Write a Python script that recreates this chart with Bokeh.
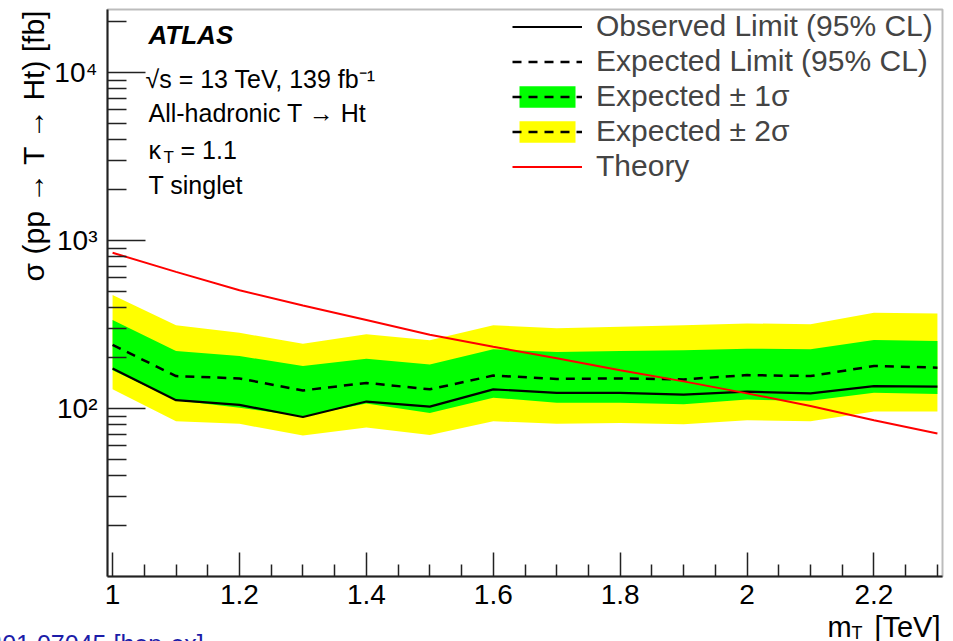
import math
from bokeh.plotting import figure
from bokeh.models import Range1d, FixedTicker, Label, Legend, LegendItem, BoxAnnotation
from bokeh.embed import file_html
from bokeh.resources import INLINE

# ---- data ----
mass = [1.0, 1.1, 1.2, 1.3, 1.4, 1.5, 1.6, 1.7, 1.8, 1.9, 2.0, 2.1, 2.2, 2.3]
observed = [173, 112, 105, 89, 110, 102.5, 130, 124, 124, 121, 126, 123, 136, 135]
expected = [239, 156, 151, 128, 142, 130, 157, 150, 151, 149, 158, 156, 179, 175]
exp_plus1 = [336, 220, 205, 179, 198, 183, 225, 217, 220, 222, 227, 225, 256, 252]
exp_minus1 = [169, 112, 101, 90, 107, 94, 116, 108, 108, 106, 113, 111, 124, 122]
exp_plus2 = [474, 313, 282, 243, 277, 255, 313, 300, 307, 313, 321, 317, 372, 367]
exp_minus2 = [130, 84, 81, 69, 77, 69.5, 84, 81, 82, 80.5, 85, 84, 96, 96]
theory = [845, 650, 506, 410, 336, 275, 233, 199, 169, 145, 123, 103.5, 85, 71]

x_major_ticks = [1.0, 1.2, 1.4, 1.6, 1.8, 2.0, 2.2]
x_tick_labels = ["1", "1.2", "1.4", "1.6", "1.8", "2", "2.2"]
x_minor_ticks = [1.05, 1.1, 1.15, 1.25, 1.3, 1.35, 1.45, 1.5, 1.55, 1.65, 1.7, 1.75,
                 1.85, 1.9, 1.95, 2.05, 2.1, 2.15, 2.25, 2.3]
y_major_ticks = [100, 1000, 10000]
y_tick_labels = ["10\u00b2", "10\u00b3", "10\u2074"]
y_minor_ticks = [20, 30, 40, 50, 60, 70, 80, 90,
                 200, 300, 400, 500, 600, 700, 800, 900,
                 2000, 3000, 4000, 5000, 6000, 7000, 8000, 9000, 20000]

legend_labels = ["Observed Limit (95% CL)", "Expected Limit (95% CL)",
                 "Expected \u00b1 1\u03c3", "Expected \u00b1 2\u03c3", "Theory"]

# axis limits of the drawn box
X_MIN, X_MAX = 0.992, 2.308
Y_MIN, Y_MAX = 10.0, 23700.0

# ---- layout: the Bokeh frame is the whole canvas; the plot box sits inside it ----
W, H = 953, 641
BOX_L, BOX_R, BOX_T, BOX_B = 107, 942, 9, 576   # canvas px of the plot box
px_per_x = (BOX_R - BOX_L) / (X_MAX - X_MIN)
px_per_dec = (BOX_B - BOX_T) / (math.log10(Y_MAX) - math.log10(Y_MIN))
x_start = X_MIN - BOX_L / px_per_x
x_end = X_MAX + (W - BOX_R) / px_per_x
y_start = 10 ** (math.log10(Y_MIN) - (H - BOX_B) / px_per_dec)
y_end = 10 ** (math.log10(Y_MAX) + BOX_T / px_per_dec)

FONT = "Liberation Sans"

p = figure(width=W, height=H, output_backend="svg", toolbar_location=None,
           x_range=Range1d(x_start, x_end), y_range=Range1d(y_start, y_end),
           y_axis_type="log", min_border=0)
p.xgrid.visible = False
p.ygrid.visible = False
p.outline_line_color = None
p.background_fill_color = "white"
p.border_fill_color = "white"

# bands and lines
r_yellow = p.varea(x=mass, y1=exp_minus2, y2=exp_plus2, fill_color="#ffff00")
r_green = p.varea(x=mass, y1=exp_minus1, y2=exp_plus1, fill_color="#00ff00")
r_exp = p.line(mass, expected, line_color="black", line_width=2.5, line_dash="9 7")
r_obs = p.line(mass, observed, line_color="black", line_width=2.2)
r_th = p.line(mass, theory, line_color="#ff0000", line_width=2)

# plot box outline
p.add_layout(BoxAnnotation(left=X_MIN, right=X_MAX, bottom=Y_MIN, top=Y_MAX,
                           fill_alpha=0, line_color="#222222", line_width=2,
                           level="overlay"))

# axes drawn at the box edges
xa = p.xaxis[0]
xa.fixed_location = Y_MIN
xa.bounds = (X_MIN, X_MAX)
xa.ticker = FixedTicker(ticks=x_major_ticks, minor_ticks=x_minor_ticks)
xa.major_label_overrides = {t: l for t, l in zip(x_major_ticks, x_tick_labels)}
xa.major_tick_in = 24
xa.major_tick_out = 0
xa.minor_tick_in = 12
xa.minor_tick_out = 0
xa.axis_line_width = 2
xa.axis_line_color = "#222222"
xa.major_tick_line_color = "#222222"
xa.minor_tick_line_color = "#222222"
xa.major_tick_line_width = 1.5
xa.minor_tick_line_width = 1.5
xa.major_label_text_font = FONT
xa.major_label_text_font_size = "28px"
xa.major_label_text_color = "black"
xa.major_label_standoff = 8

ya = p.yaxis[0]
ya.fixed_location = X_MIN
ya.bounds = (Y_MIN, Y_MAX)
ya.ticker = FixedTicker(ticks=y_major_ticks, minor_ticks=y_minor_ticks)
ya.major_label_overrides = {t: l for t, l in zip(y_major_ticks, y_tick_labels)}
ya.major_tick_in = 38
ya.major_tick_out = 0
ya.minor_tick_in = 19
ya.minor_tick_out = 0
ya.axis_line_width = 2
ya.axis_line_color = "#222222"
ya.major_tick_line_color = "#222222"
ya.minor_tick_line_color = "#222222"
ya.major_tick_line_width = 1.5
ya.minor_tick_line_width = 1.5
ya.major_label_text_font = FONT
ya.major_label_text_font_size = "28px"
ya.major_label_text_color = "black"
ya.major_label_standoff = 10

SHIFT = 9  # empirical baseline correction


def lab(text, cx, cy, size, style="normal", align="left", baseline="alphabetic",
        angle=0.0, color="black", shift=SHIFT):
    p.add_layout(Label(x=cx, y=H - (cy - shift), x_units="screen", y_units="screen",
                       text=text, text_font=FONT, text_font_size=size,
                       text_font_style=style, text_align=align,
                       text_baseline=baseline, angle=angle, text_color=color))


# axis titles
lab("\u03c3 (pp \u2192 T \u2192 Ht) [fb]", 33, 9, "30px", align="right",
    baseline="middle", angle=math.pi / 2, shift=0)
lab("m", 827, 635, "29px")
lab("T", 851, 641, "18px")
lab("[TeV]", 940, 635, "29px", align="right")

# annotations top-left
lab("ATLAS", 148, 43, "26px", style="bold italic")
lab("\u221as = 13 TeV, 139 fb\u207b\u00b9", 145, 87, "25px")
lab("All-hadronic T \u2192 Ht", 148, 121, "25px")
lab("\u03ba", 148, 158, "25px")
lab("T", 163, 166, "17px")
lab("= 1.1", 180, 158, "25px")
lab("T singlet", 148, 193, "25px")

# reference caption (cut by the page edge)
lab("arXiv:2201.07045 [hep-ex]", -90, 652, "25px", color="#1c1ca8")

legend = Legend(items=[
    LegendItem(label=legend_labels[0], renderers=[r_obs]),
    LegendItem(label=legend_labels[1], renderers=[r_exp]),
    LegendItem(label=legend_labels[2], renderers=[r_green, r_exp]),
    LegendItem(label=legend_labels[3], renderers=[r_yellow, r_exp]),
    LegendItem(label=legend_labels[4], renderers=[r_th]),
], location=(512, H - 183.5))
legend.glyph_width = 70
legend.glyph_height = 27
legend.label_height = 35
legend.spacing = 0
legend.padding = 0
legend.margin = 0
legend.label_standoff = 14
legend.label_text_font = FONT
legend.label_text_font_size = "30px"
legend.background_fill_alpha = 0
legend.border_line_alpha = 0
p.add_layout(legend)

open("out.html", "w").write(file_html(p, INLINE))
